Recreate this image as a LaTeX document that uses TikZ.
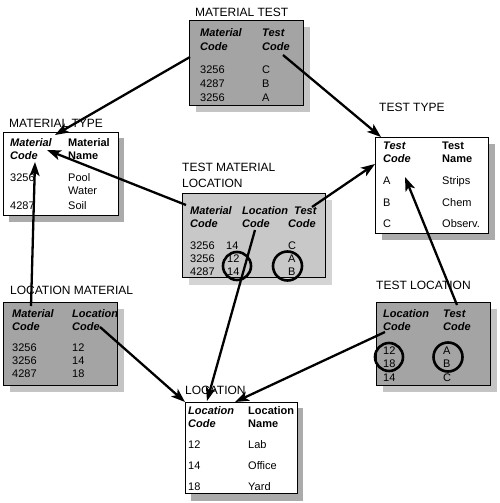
\documentclass[tikz,border=0pt]{standalone}
\usepackage{fontspec}
\setmainfont{Liberation Sans}
\usetikzlibrary{arrows.meta}
\definecolor{boxgray}{HTML}{A4A4A4}
\definecolor{shadowgray}{HTML}{C4C4C4}
\definecolor{lightbox}{HTML}{C8C8C8}
\definecolor{lightshadow}{HTML}{D4D4D4}
\definecolor{whiteshadow}{HTML}{ABABAB}
\tikzset{
  title/.style={anchor=base west, inner sep=0pt, font=\fontsize{12}{14}\selectfont},
  hdr/.style={anchor=base west, inner sep=0pt, font=\fontsize{11}{13}\selectfont\bfseries\itshape},
  hdrb/.style={anchor=base west, inner sep=0pt, font=\fontsize{11}{13}\selectfont\bfseries},
  cell/.style={anchor=base west, inner sep=0pt, font=\fontsize{11}{13}\selectfont},
  tbox/.style={draw=black, line width=1.4pt},
  ring/.style={draw=black, line width=2.6pt},
  link/.style={line width=2.3pt, -{Stealth[length=14pt, width=10pt, inset=3.5pt]}}
}
\begin{document}
\begin{tikzpicture}[x=1pt, y=-1pt]
\useasboundingbox (0,0) rectangle (500,503);
% ---------------- shadows
\fill[shadowgray] (196,27) rectangle (310,112);
\fill[whiteshadow] (9,138) rectangle (124,222);
\fill[lightshadow] (189,200) rectangle (332,285);
\fill[whiteshadow] (382,144) rectangle (495,240);
\fill[shadowgray] (10,309) rectangle (124,392);
\fill[shadowgray] (383,309) rectangle (497,392);
\fill[whiteshadow] (191,408) rectangle (303,501);
% ---------------- boxes
\node[tbox, fill=boxgray, minimum width=114pt, minimum height=85pt, anchor=north west, inner sep=0pt] (mtbox) at (189,20) {};
\node[tbox, fill=white, minimum width=115pt, minimum height=83pt, anchor=north west, inner sep=0pt] (mybox) at (3,132) {};
\node[tbox, fill=lightbox, minimum width=143pt, minimum height=84pt, anchor=north west, inner sep=0pt] (tmlbox) at (182,193) {};
\node[tbox, fill=white, minimum width=113pt, minimum height=96pt, anchor=north west, inner sep=0pt] (ttbox) at (375,137) {};
\node[tbox, fill=boxgray, minimum width=114pt, minimum height=83pt, anchor=north west, inner sep=0pt] (lmbox) at (3,302) {};
\node[tbox, fill=boxgray, minimum width=114pt, minimum height=83pt, anchor=north west, inner sep=0pt] (tlbox) at (376,302) {};
\node[tbox, fill=white, minimum width=112pt, minimum height=91pt, anchor=north west, inner sep=0pt] (lbox) at (185,402) {};
% ---------------- MATERIAL TEST
\node[title] (mtt) at (195,16.5) {MATERIAL TEST};
\node[hdr] (mth1) at (200,37) {Material};
\node[hdr] (mth2) at (200,51) {Code};
\node[hdr] (mth3) at (262,37) {Test};
\node[hdr] (mth4) at (262,51) {Code};
\node[cell] (mt11) at (200,74) {3256};
\node[cell] (mt21) at (200,87.5) {4287};
\node[cell] (mt31) at (200,101) {3256};
\node[cell] (mt12) at (262,74) {C};
\node[cell] (mt22) at (262,87.5) {B};
\node[cell] (mt32) at (262,101) {A};
% ---------------- MATERIAL TYPE
\node[title] (myt) at (9,127.5) {MATERIAL TYPE};
\node[hdr] (myh1) at (10,146) {Material};
\node[hdr] (myh2) at (10,159) {Code};
\node[hdrb] (myh3) at (68,146) {Material};
\node[hdrb] (myh4) at (68,159) {Name};
\node[cell] (my11) at (10,181) {3256};
\node[cell] (my12) at (68,181) {Pool};
\node[cell] (my22) at (68,194) {Water};
\node[cell] (my31) at (10,209) {4287};
\node[cell] (my32) at (68,209) {Soil};
% ---------------- TEST MATERIAL LOCATION
\node[title] (tmlt1) at (182,171.5) {TEST MATERIAL};
\node[title] (tmlt2) at (182,187.5) {LOCATION};
\node[hdr] (tmlh1) at (190,214) {Material};
\node[hdr] (tmlh2) at (190,227) {Code};
\node[hdr] (tmlh3) at (242,214) {Location};
\node[hdr] (tmlh4) at (242,227) {Code};
\node[hdr] (tmlh5) at (294,214) {Test};
\node[hdr] (tmlh6) at (288,227) {Code};
\node[cell] (tml11) at (190,249) {3256};
\node[cell] (tml12) at (226,249) {14};
\node[cell] (tml13) at (288,249) {C};
\node[cell] (tml21) at (190,262) {3256};
\node[cell] (tml22) at (227,262) {12};
\node[cell] (tml23) at (288,262) {A};
\node[cell] (tml31) at (190,275) {4287};
\node[cell] (tml32) at (227,275) {14};
\node[cell] (tml33) at (288,275) {B};
\node[ring, circle, minimum size=28pt, inner sep=0pt] (tmlc1) at (237,266) {};
\node[ring, circle, minimum size=29pt, inner sep=0pt] (tmlc2) at (287.5,266) {};
% ---------------- TEST TYPE
\node[title] (ttt) at (379,111.5) {TEST TYPE};
\node[hdr] (tth1) at (383,149) {Test};
\node[hdr] (tth2) at (383,162) {Code};
\node[hdrb] (tth3) at (442,149) {Test};
\node[hdrb] (tth4) at (442,162) {Name};
\node[cell] (tt11) at (383,184) {A};
\node[cell] (tt12) at (442,184) {Strips};
\node[cell] (tt21) at (383,206) {B};
\node[cell] (tt22) at (442,206) {Chem};
\node[cell] (tt31) at (383,227) {C};
\node[cell] (tt32) at (442,227) {Observ.};
% ---------------- LOCATION MATERIAL
\node[title] (lmt) at (10,294.5) {LOCATION MATERIAL};
\node[hdr] (lmh1) at (12,317) {Material};
\node[hdr] (lmh2) at (12,330) {Code};
\node[hdr] (lmh3) at (72,317) {Location};
\node[hdr] (lmh4) at (72,330) {Code};
\node[cell] (lm11) at (12,351) {3256};
\node[cell] (lm12) at (72,351) {12};
\node[cell] (lm21) at (12,364) {3256};
\node[cell] (lm22) at (72,364) {14};
\node[cell] (lm31) at (12,377) {4287};
\node[cell] (lm32) at (72,377) {18};
% ---------------- TEST LOCATION
\node[title] (tlt) at (376,289.5) {TEST LOCATION};
\node[hdr] (tlh1) at (383,317) {Location};
\node[hdr] (tlh2) at (383,330) {Code};
\node[hdr] (tlh3) at (443,317) {Test};
\node[hdr] (tlh4) at (443,330) {Code};
\node[cell] (tl11) at (383,354) {12};
\node[cell] (tl12) at (443,354) {A};
\node[cell] (tl21) at (383,367) {18};
\node[cell] (tl22) at (443,367) {B};
\node[cell] (tl31) at (383,381) {14};
\node[cell] (tl32) at (443,381) {C};
\node[ring, circle, minimum size=28pt, inner sep=0pt] (tlc1) at (389,357) {};
\node[ring, circle, minimum size=29pt, inner sep=0pt] (tlc2) at (448,357) {};
% ---------------- LOCATION
\node[title] (lt) at (185,394.5) {LOCATION};
\node[hdr] (lh1) at (188,414) {Location};
\node[hdr] (lh2) at (188,427) {Code};
\node[hdrb] (lh3) at (248,414) {Location};
\node[hdrb] (lh4) at (248,427) {Name};
\node[cell] (l11) at (188,448) {12};
\node[cell] (l12) at (248,448) {Lab};
\node[cell] (l21) at (188,469) {14};
\node[cell] (l22) at (248,469) {Office};
\node[cell] (l31) at (188,490) {18};
\node[cell] (l32) at (248,490) {Yard};
% ---------------- connector end points
\coordinate (s1) at (190,57);   \coordinate (e1) at (55,135);
\coordinate (s2) at (283,55);   \coordinate (e2) at (381,137);
\coordinate (s3) at (186,205);  \coordinate (e3) at (47,150);
\coordinate (s4) at (312,207);  \coordinate (e4) at (375,164);
\coordinate (s5) at (255,230);  \coordinate (e5) at (207,401);
\coordinate (s6) at (31,306);   \coordinate (e6) at (35,162);
\coordinate (s7) at (100,327);  \coordinate (e7) at (185,402);
\coordinate (s8) at (457,305);  \coordinate (e8) at (405,177);
\coordinate (s9) at (385,332);  \coordinate (e9) at (235,402);
% ---------------- connectors
\draw[link] (s1) -- (e1);
\draw[link] (s2) -- (e2);
\draw[link] (s3) -- (e3);
\draw[link] (s4) -- (e4);
\draw[link] (s5) -- (e5);
\draw[link] (s6) -- (e6);
\draw[link] (s7) -- (e7);
\draw[link] (s8) -- (e8);
\draw[link] (s9) -- (e9);
\end{tikzpicture}
\end{document}
